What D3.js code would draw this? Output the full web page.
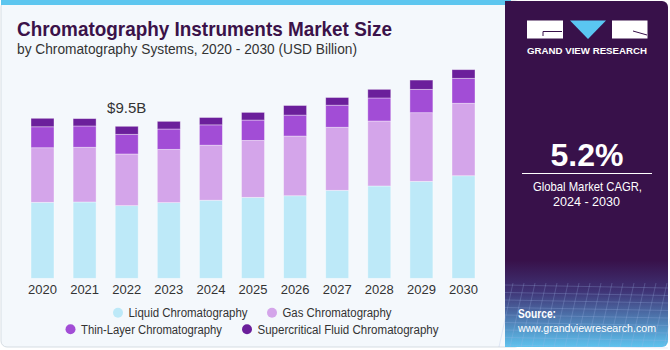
<!DOCTYPE html>
<html>
<head>
<meta charset="utf-8">
<script src="https://cdn.jsdelivr.net/npm/d3@7"></script>
<style>
  html, body { margin: 0; padding: 0; background: #ffffff; }
  svg { display: block; font-family: "Liberation Sans", Arial, sans-serif; }
</style>
</head>
<body>
<div class="div_chart"></div>
<script>
const years = ["2020", "2021", "2022", "2023", "2024", "2025", "2026", "2027", "2028", "2029", "2030"];
const seriesNames = ["Liquid Chromatography", "Gas Chromatography", "Thin-Layer Chromatography", "Supercritical Fluid Chromatography"];
const liquid = [4.75, 4.77, 4.54, 4.73, 4.88, 5.06, 5.16, 5.50, 5.77, 6.06, 6.41];
const gas = [3.41, 3.42, 3.23, 3.33, 3.44, 3.56, 3.73, 3.94, 4.06, 4.29, 4.53];
const thinLayer = [1.31, 1.33, 1.23, 1.27, 1.27, 1.27, 1.31, 1.38, 1.44, 1.46, 1.56];
const supercritical = [0.53, 0.46, 0.50, 0.48, 0.46, 0.48, 0.60, 0.48, 0.54, 0.58, 0.54];
const colors = ["#bde9f8", "#d4a5ea", "#a24dd6", "#6b1f9b"];
const callout = {year: "2022", label: "$9.5B"};

const width = 670, height = 350;
const baseY = 278.3;

const svg = d3.select(".div_chart")
  .append("svg")
    .attr("width", width)
    .attr("height", height);

const defs = svg.append("defs");
const grad = defs.append("linearGradient")
    .attr("id", "panelGrad")
    .attr("x1", 0).attr("y1", 0).attr("x2", 0).attr("y2", 1);
grad.append("stop").attr("offset", "0%").attr("stop-color", "#38114a");
grad.append("stop").attr("offset", "75%").attr("stop-color", "#38114a");
grad.append("stop").attr("offset", "84%").attr("stop-color", "#3f3476");
grad.append("stop").attr("offset", "100%").attr("stop-color", "#5ec3ee");

// left panel
svg.append("rect")
    .attr("x", 1).attr("y", 1)
    .attr("width", 520).attr("height", 346)
    .attr("rx", 6)
    .attr("fill", "#f4f8fc")
    .attr("stroke", "#d6dde3");
svg.append("rect")
    .attr("x", 1).attr("y", 0)
    .attr("width", 510).attr("height", 5)
    .attr("fill", "#5dc6ef");

// right panel
svg.append("rect")
    .attr("x", 505).attr("y", 1)
    .attr("width", 163).attr("height", 346)
    .attr("rx", 6)
    .attr("fill", "url(#panelGrad)");
svg.append("rect")
    .attr("x", 505).attr("y", 1)
    .attr("width", 10).attr("height", 346)
    .attr("fill", "url(#panelGrad)");

// faint grid on the lower part of right panel
const gridG = svg.append("g").attr("stroke", "#9fb8e6").attr("stroke-opacity", 0.25).attr("fill", "none");
d3.range(0, 9).forEach(i => {
  const y = 285 + i * 7.5;
  gridG.append("line").attr("x1", 505).attr("x2", 668).attr("y1", y).attr("y2", y + 3);
});
d3.range(0, 16).forEach(i => {
  const x = 505 + i * 11;
  gridG.append("line").attr("x1", x + 8).attr("x2", x - 6).attr("y1", 283).attr("y2", 347);
});

// title
svg.append("text")
    .attr("x", 17).attr("y", 36)
    .attr("fill", "#3b1249")
    .attr("font-size", 21)
    .attr("font-weight", 900)
    .attr("textLength", 375)
    .attr("lengthAdjust", "spacingAndGlyphs")
    .text("Chromatography Instruments Market Size");
svg.append("text")
    .attr("x", 17).attr("y", 54)
    .attr("fill", "#333")
    .attr("font-size", 14)
    .attr("textLength", 340)
    .attr("lengthAdjust", "spacingAndGlyphs")
    .text("by Chromatography Systems, 2020 - 2030 (USD Billion)");

// scales
const x = d3.scaleBand()
    .domain(years)
    .range([21.45, 484.55])
    .paddingInner(0.454)
    .paddingOuter(0.227);

const y = d3.scaleLinear()
    .domain([0, 10])
    .range([baseY, baseY - 160]);

const table = years.map((yr, i) => ({
  year: yr,
  [seriesNames[0]]: liquid[i],
  [seriesNames[1]]: gas[i],
  [seriesNames[2]]: thinLayer[i],
  [seriesNames[3]]: supercritical[i]
}));
const stacked = d3.stack().keys(seriesNames)(table);

svg.append("g")
  .selectAll("g")
  .data(stacked)
  .join("g")
    .attr("fill", (d, i) => colors[i])
  .selectAll("rect")
  .data(d => d)
  .join("rect")
    .attr("x", d => x(d.data.year))
    .attr("y", d => y(d[1]))
    .attr("width", x.bandwidth())
    .attr("height", d => y(d[0]) - y(d[1]))
    .attr("stroke", "#ffffff")
    .attr("stroke-opacity", 0.45)
    .attr("stroke-width", 0.8);

// x axis
const xAxis = g => g
  .attr("transform", `translate(0, ${baseY})`)
  .call(d3.axisBottom(x).tickSize(0).tickPadding(6))
  .call(g => g.select(".domain").remove())
  .call(g => g.selectAll("text")
    .attr("font-size", 13)
    .attr("fill", "#333")
    .attr("font-family", "Liberation Sans, Arial, sans-serif"));
svg.append("g").call(xAxis);

// callout label
const ci = years.indexOf(callout.year);
const calloutTotal = liquid[ci] + gas[ci] + thinLayer[ci] + supercritical[ci];
svg.append("text")
    .attr("x", x(callout.year) + x.bandwidth() / 2)
    .attr("y", y(calloutTotal) - 13)
    .attr("text-anchor", "middle")
    .attr("font-size", 15)
    .attr("fill", "#333")
    .text(callout.label);

// legend
const legendPos = [
  {x: 118, y: 312.7, w: 119},
  {x: 272, y: 312.7, w: 109},
  {x: 70.5, y: 329.3, w: 141},
  {x: 247, y: 329.3, w: 181}
];
const legend = svg.append("g")
  .selectAll("g")
  .data(seriesNames)
  .join("g")
    .attr("transform", (d, i) => `translate(${legendPos[i].x}, ${legendPos[i].y})`);
legend.append("circle")
    .attr("r", 5)
    .attr("fill", (d, i) => colors[i]);
legend.append("text")
    .attr("x", 10.5)
    .attr("dy", "0.35em")
    .attr("font-size", 12.5)
    .attr("fill", "#333")
    .attr("textLength", (d, i) => legendPos[i].w)
    .attr("lengthAdjust", "spacingAndGlyphs")
    .text(d => d);

// logo
const logo = svg.append("g");
logo.append("rect").attr("x", 527).attr("y", 20.5).attr("width", 36).attr("height", 18).attr("fill", "#ffffff");
logo.append("path").attr("d", "M570,20.5 L606,20.5 L588,39 Z").attr("fill", "#5ac6f2");
logo.append("rect").attr("x", 612).attr("y", 20.5).attr("width", 35.5).attr("height", 18).attr("fill", "#ffffff");
logo.append("path").attr("d", "M543,36 L543,31.5 L562,31.5").attr("stroke", "#38114a").attr("stroke-width", 1).attr("fill", "none");
logo.append("path").attr("d", "M633,31 L647,35").attr("stroke", "#38114a").attr("stroke-width", 1).attr("fill", "none");
svg.append("text")
    .attr("x", 527).attr("y", 54)
    .attr("fill", "#ffffff")
    .attr("font-size", 9.5)
    .attr("font-weight", "bold")
    .attr("textLength", 120)
    .attr("lengthAdjust", "spacingAndGlyphs")
    .text("GRAND VIEW RESEARCH");

// CAGR block
svg.append("text")
    .attr("x", 587).attr("y", 166)
    .attr("text-anchor", "middle")
    .attr("fill", "#ffffff")
    .attr("font-size", 32)
    .attr("font-weight", "bold")
    .text("5.2%");
svg.append("line")
    .attr("x1", 522).attr("x2", 652)
    .attr("y1", 173.5).attr("y2", 173.5)
    .attr("stroke", "#ffffff")
    .attr("stroke-width", 1);
svg.append("text")
    .attr("x", 533).attr("y", 191)
    .attr("fill", "#ffffff")
    .attr("font-size", 13)
    .attr("textLength", 109)
    .attr("lengthAdjust", "spacingAndGlyphs")
    .text("Global Market CAGR,");
svg.append("text")
    .attr("x", 553).attr("y", 205.5)
    .attr("fill", "#ffffff")
    .attr("font-size", 13)
    .attr("textLength", 67)
    .attr("lengthAdjust", "spacingAndGlyphs")
    .text("2024 - 2030");

// source
svg.append("text")
    .attr("x", 518).attr("y", 318)
    .attr("fill", "#ffffff")
    .attr("font-size", 12.5)
    .attr("font-weight", "bold")
    .attr("textLength", 38)
    .attr("lengthAdjust", "spacingAndGlyphs")
    .text("Source:");
svg.append("text")
    .attr("x", 518).attr("y", 332)
    .attr("fill", "#ffffff")
    .attr("font-size", 11.5)
    .attr("textLength", 138)
    .attr("lengthAdjust", "spacingAndGlyphs")
    .text("www.grandviewresearch.com");
</script>
</body>
</html>
